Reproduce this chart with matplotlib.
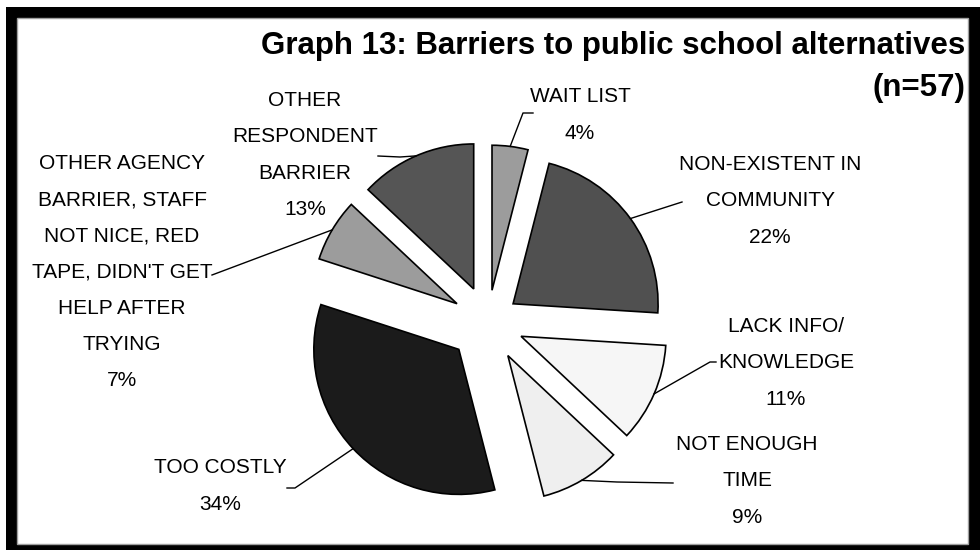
import matplotlib
matplotlib.use("Agg")
import matplotlib.pyplot as plt
from matplotlib import font_manager
from matplotlib.patches import Rectangle
import numpy as np

# survey answers, clockwise from 12 o'clock
labels = [
    "WAIT LIST",
    "NON-EXISTENT IN\nCOMMUNITY",
    "LACK INFO/\nKNOWLEDGE",
    "NOT ENOUGH\nTIME",
    "TOO COSTLY",
    "OTHER AGENCY\nBARRIER, STAFF\nNOT NICE, RED\nTAPE, DIDN'T GET\nHELP AFTER\nTRYING",
    "OTHER\nRESPONDENT\nBARRIER",
]
values = [4, 22, 11, 9, 34, 7, 13]

colors = ["#9c9c9c", "#505050", "#f6f6f6", "#efefef", "#1b1b1b", "#9c9c9c", "#555555"]
# pie offsets in pixels (the axes work in pixel units)
explode = [32, 31, 36, 39, 40, 36, 36]

# label block centres and leader elbows, in pixels from the top-left corner
label_pos = [(580, 115), (770, 201), (786, 363), (747, 481), (220, 486), (122, 272), (305, 155)]
elbows = [
    [(523, 113), (533, 113)],
    [(682, 202)],
    [(710, 362), (716, 362)],
    [(617, 482), (673, 483)],
    [(295, 488), (287, 488)],
    [(212, 275)],
    [(400, 157), (378, 156)],
]

W, H = 980, 550
installed = {f.name for f in font_manager.fontManager.ttflist}
if "Liberation Sans Narrow" in installed:
    label_font, label_size = "Liberation Sans Narrow", 17.5
else:
    label_font, label_size = "Liberation Sans", 15


def py(y):
    return H - y


fig = plt.figure(figsize=(W / 100, H / 100), dpi=100)
ax = fig.add_axes([0, 0, 1, 1])

# black frame with a thin grey inner rule
ax.add_patch(Rectangle((6, 0), W - 6, py(7), facecolor="black", edgecolor="none", zorder=0))
ax.add_patch(Rectangle((17, py(544)), 968 - 17, 544 - 18, facecolor="white",
                       edgecolor="#a0a0a0", linewidth=1, zorder=0.5))

wedges, _ = ax.pie(values, colors=colors, explode=explode, startangle=90,
                   counterclock=False, radius=145, center=(488, py(322)),
                   wedgeprops=dict(edgecolor="black", linewidth=1.2))
for w in wedges:
    w.set_zorder(2)

for w, lab, val, (tx, ty), pts in zip(wedges, labels, values, label_pos, elbows):
    mid = np.deg2rad((w.theta1 + w.theta2) / 2)
    ax0 = w.center[0] + w.r * np.cos(mid)
    ay0 = w.center[1] + w.r * np.sin(mid)
    xs = [ax0] + [p[0] for p in pts]
    ys = [ay0] + [py(p[1]) for p in pts]
    ax.plot(xs, ys, color="black", linewidth=1, zorder=3)
    ax.text(tx, py(ty), f"{lab}\n{val}%", ha="center", va="center",
            fontsize=label_size, family=label_font, linespacing=2.14,
            multialignment="center", zorder=4)

ax.text(965, py(46), "Graph 13: Barriers to public school alternatives",
        ha="right", va="center", fontsize=22.5, fontweight="bold",
        family="Liberation Sans", zorder=4)
ax.text(965, py(88), "(n=57)", ha="right", va="center", fontsize=22.5,
        fontweight="bold", family="Liberation Sans", zorder=4)

ax.set_xlim(0, W)
ax.set_ylim(0, H)
ax.set_aspect("auto")
ax.axis("off")

fig.savefig("out.png", dpi=100, facecolor="white")
